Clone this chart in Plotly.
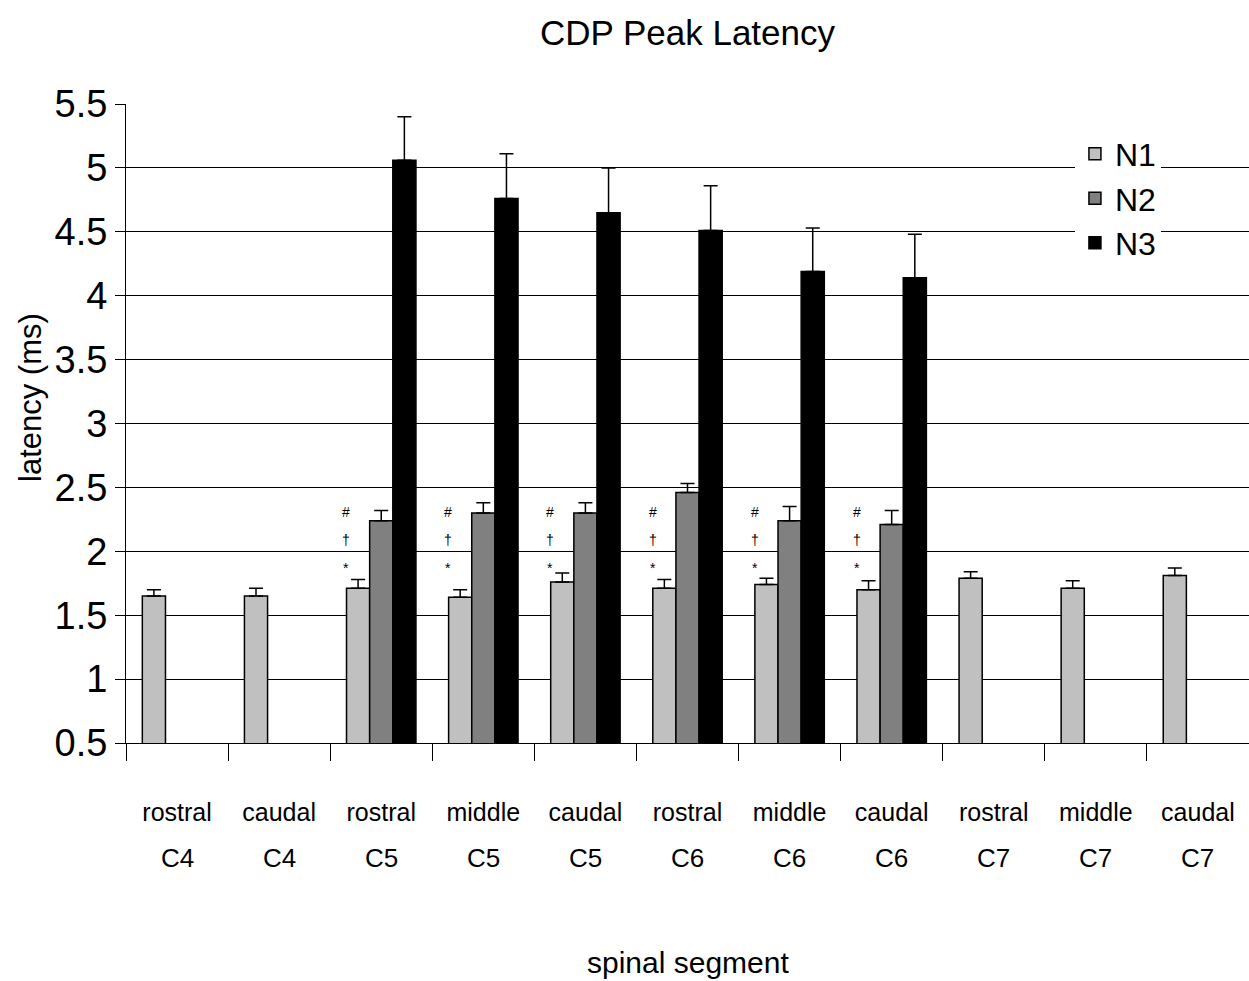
import plotly.graph_objects as go

positions = ["rostral", "caudal", "rostral", "middle", "caudal", "rostral", "middle", "caudal", "rostral", "middle", "caudal"]
segments = ["C4", "C4", "C5", "C5", "C5", "C6", "C6", "C6", "C7", "C7", "C7"]
cats = [f"{s}-{p}" for s, p in zip(segments, positions)]

n1 = [1.65, 1.65, 1.71, 1.64, 1.76, 1.71, 1.74, 1.70, 1.79, 1.71, 1.81]
n1_err = [0.05, 0.06, 0.07, 0.06, 0.07, 0.07, 0.05, 0.07, 0.05, 0.06, 0.06]
n2 = [None, None, 2.24, 2.30, 2.30, 2.46, 2.24, 2.21, None, None, None]
n2_err = [0, 0, 0.08, 0.08, 0.08, 0.07, 0.11, 0.11, 0, 0, 0]
n3 = [None, None, 5.06, 4.76, 4.65, 4.51, 4.19, 4.14, None, None, None]
n3_err = [0, 0, 0.34, 0.35, 0.35, 0.35, 0.34, 0.34, 0, 0, 0]

sig_symbols = ["#", "†", "*"]
sig_levels = [2.31, 2.09, 1.87]
sig_cats = [2, 3, 4, 5, 6, 7]

series = [("N1", n1, n1_err, "#c0c0c0"), ("N2", n2, n2_err, "#808080"), ("N3", n3, n3_err, "#000000")]

FONT = "Liberation Sans, Arial, sans-serif"

fig = go.Figure()
for name, vals, err, col in series:
    fig.add_trace(go.Bar(
        x=cats, y=vals, name=name,
        marker=dict(color=col, line=dict(color="black", width=1.5)),
        error_y=dict(type="data", symmetric=False, array=err, arrayminus=[0] * len(err),
                     color="black", thickness=1.5, width=7),
    ))

annotations = []
for i in sig_cats:
    for sym, lev in zip(sig_symbols, sig_levels):
        annotations.append(dict(x=cats[i], y=lev, xref="x", yref="y", text=sym, showarrow=False,
                                xshift=-35, font=dict(size=14, family=FONT, color="black")))
for c, s in zip(cats, segments):
    annotations.append(dict(x=c, y=0, xref="x", yref="paper", text=s, showarrow=False,
                            yanchor="middle", yshift=-115, font=dict(size=26, family=FONT, color="black")))
annotations.append(dict(x=0.5, y=0, xref="paper", yref="paper", text="spinal segment", showarrow=False,
                        yanchor="middle", yshift=-219, font=dict(size=30, family=FONT, color="black")))
annotations.append(dict(x=-(126 - 30) / 1123, y=(743 - 398) / 639, xref="paper", yref="paper",
                        text="latency (ms)", textangle=-90, showarrow=False,
                        xanchor="center", yanchor="middle", font=dict(size=31, family=FONT, color="black")))

fig.update_layout(
    width=1249, height=981,
    margin=dict(l=126, r=0, t=104, b=238),
    paper_bgcolor="white", plot_bgcolor="white",
    barmode="group", bargap=0.32, bargroupgap=0,
    title=dict(text="CDP Peak Latency", x=0.5, xref="paper", y=1 - 33 / 981, yanchor="middle",
               font=dict(size=35, family=FONT, color="black")),
    legend=dict(x=0.845, y=0.965, xanchor="left", yanchor="top", bgcolor="white",
                font=dict(size=32, family=FONT, color="black"), tracegroupgap=0),
    annotations=annotations,
    xaxis=dict(type="category", tickmode="array", tickvals=cats, ticktext=positions,
               tickson="boundaries", ticks="outside", ticklen=17, tickcolor="black", tickwidth=1,
               showline=True, linecolor="black", linewidth=1, showgrid=False,
               ticklabelstandoff=47,
               tickfont=dict(size=25, family=FONT, color="black")),
    yaxis=dict(range=[0.5, 5.5], dtick=0.5, tick0=0.5, showgrid=True, gridcolor="black", gridwidth=1,
               ticks="outside", ticklen=10, tickcolor="black", showline=True, linecolor="black",
               linewidth=1, zeroline=False,
               tickfont=dict(size=38, family=FONT, color="black")),
)

fig.write_html("out.html")
